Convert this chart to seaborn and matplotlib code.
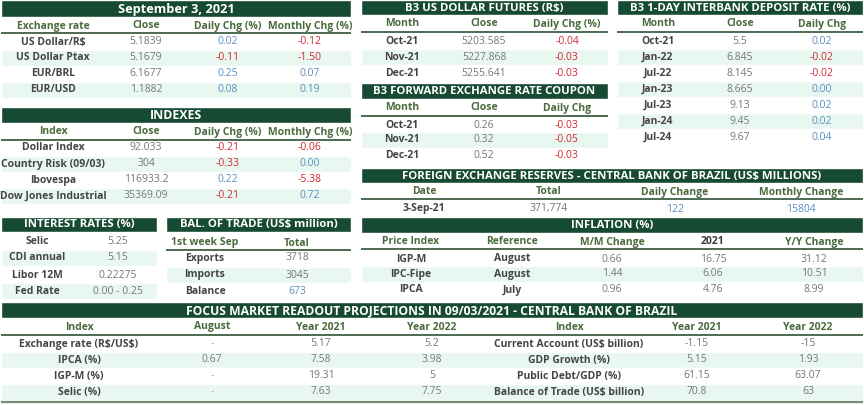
"""
Brazil market dashboard, 3 Sep 2021: a panel of small tables
"""

import matplotlib
matplotlib.use("Agg")
import matplotlib.pyplot as plt
import seaborn as sns

# --- data ---------------------------------------------------------------
fx_title = "September 3, 2021"
fx_headers = ["Exchange rate", "Close", "Daily Chg (%)", "Monthly Chg (%)"]
fx_names = ["US Dollar/R$", "US Dollar Ptax", "EUR/BRL", "EUR/USD"]
fx_close = ["5.1839", "5.1679", "6.1677", "1.1882"]
fx_daily = ["0.02", "-0.11", "0.25", "0.08"]
fx_monthly = ["-0.12", "-1.50", "0.07", "0.19"]

idx_title = "INDEXES"
idx_headers = ["Index", "Close", "Daily Chg (%)", "Monthly Chg (%)"]
idx_names = ["Dollar Index", "Country Risk (09/03)", "Ibovespa", "Dow Jones Industrial"]
idx_close = ["92.033", "304", "116933.2", "35369.09"]
idx_daily = ["-0.21", "-0.33", "0.22", "-0.21"]
idx_monthly = ["-0.06", "0.00", "-5.38", "0.72"]

fut_title = "B3 US DOLLAR FUTURES (R$)"
fut_headers = ["Month", "Close", "Daily Chg (%)"]
fut_months = ["Oct-21", "Nov-21", "Dec-21"]
fut_close = ["5203.585", "5227.868", "5255.641"]
fut_daily = ["-0.04", "-0.03", "-0.03"]

cpn_title = "B3 FORWARD EXCHANGE RATE COUPON"
cpn_headers = ["Month", "Close", "Daily Chg"]
cpn_months = ["Oct-21", "Nov-21", "Dec-21"]
cpn_close = ["0.26", "0.32", "0.52"]
cpn_daily = ["-0.03", "-0.05", "-0.03"]

di_title = "B3 1-DAY INTERBANK DEPOSIT RATE (%)"
di_headers = ["Month", "Close", "Daily Chg"]
di_months = ["Oct-21", "Jan-22", "Jul-22", "Jan-23", "Jul-23", "Jan-24", "Jul-24"]
di_close = ["5.5", "6.845", "8.145", "8.665", "9.13", "9.45", "9.67"]
di_daily = ["0.02", "-0.02", "-0.02", "0.00", "0.02", "0.02", "0.04"]

res_title = "FOREIGN EXCHANGE RESERVES - CENTRAL BANK OF BRAZIL (US$ MILLIONS)"
res_headers = ["Date", "Total", "Daily Change", "Monthly Change"]
res_date = ["3-Sep-21"]
res_total = ["371,774"]
res_daily = ["122"]
res_monthly = ["15804"]

inf_title = "INFLATION (%)"
inf_headers = ["Price Index", "Reference", "M/M Change", "2021", "Y/Y Change"]
inf_names = ["IGP-M", "IPC-Fipe", "IPCA"]
inf_ref = ["August", "August", "July"]
inf_mm = ["0.66", "1.44", "0.96"]
inf_ytd = ["16.75", "6.06", "4.76"]
inf_yy = ["31.12", "10.51", "8.99"]

rate_title = "INTEREST RATES (%)"
rate_names = ["Selic", "CDI annual", "Libor 12M", "Fed Rate"]
rate_values = ["5.25", "5.15", "0.22275", "0.00 - 0.25"]

bal_title = "BAL. OF TRADE (US$ million)"
bal_headers = ["1st week Sep", "Total"]
bal_names = ["Exports", "Imports", "Balance"]
bal_values = ["3718", "3045", "673"]

focus_title = "FOCUS MARKET READOUT PROJECTIONS IN 09/03/2021 - CENTRAL BANK OF BRAZIL"
focus_headers = ["Index", "August", "Year 2021", "Year 2022", "Index", "Year 2021", "Year 2022"]
focus_left = ["Exchange rate (R$/US$)", "IPCA (%)", "IGP-M (%)", "Selic (%)"]
focus_aug = ["-", "0.67", "-", "-"]
focus_l21 = ["5.17", "7.58", "19.31", "7.63"]
focus_l22 = ["5.2", "3.98", "5", "7.75"]
focus_right = ["Current Account (US$ billion)", "GDP Growth (%)",
               "Public Debt/GDP (%)", "Balance of Trade (US$ billion)"]
focus_r21 = ["-1.15", "5.15", "61.15", "70.8"]
focus_r22 = ["-15", "1.93", "63.07", "63"]

# --- style --------------------------------------------------------------
BAR = "#174a33"
STRIPE = "#e9f7f1"
HEAD = "#4a6b3c"
LINE = "#3f5f48"
LABEL = "#454545"
VALUE = "#777777"
POS = "#5a8fc0"
NEG = "#d22a2f"
FS = 7.5

sns.set_theme(style="white")
plt.rcParams["font.family"] = ["Open Sans", "DejaVu Sans"]
plt.rcParams["text.parse_math"] = False  # "$" is literal text here


def change_color(v):
    return NEG if v.startswith("-") else POS


def draw_table(ax, box, title, headers, columns, label_cols=(0,), signed_cols=(),
               stripe_rows=(1, 3), header_colors=None, bottom_line=False, title_fs=8.2):
    """box: x0, x1, bar top, bar bottom, header y, line y, row centres, column centres"""
    x0, x1, bt, bb, hy, ly, rows_y, cols_x = box
    ax.barh((bt + bb) / 2, x1 - x0, height=bb - bt, left=x0, color=BAR, zorder=1)
    ax.text((x0 + x1) / 2, (bt + bb) / 2 + 0.5, title, color="white", fontsize=title_fs,
            fontweight="bold", ha="center", va="center", zorder=3)
    for r in stripe_rows:
        if r < len(rows_y):
            ax.barh(rows_y[r], x1 - x0, height=15.5, left=x0, color=STRIPE, zorder=0)
    if headers:
        for j, h in enumerate(headers):
            c = HEAD if header_colors is None else header_colors[j]
            ax.text(cols_x[j], hy, h, color=c, fontsize=FS, fontweight="bold",
                    ha="center", va="center")
        ax.plot([x0, x1], [ly, ly], color=LINE, lw=1.3, solid_capstyle="butt")
    for j, col in enumerate(columns):
        for i, v in enumerate(col):
            if j in label_cols:
                c, w = LABEL, "bold"
            elif j in signed_cols:
                c, w = change_color(v), "normal"
            else:
                c, w = VALUE, "normal"
            if v == "-":
                c = "#aaaaaa"
            ax.text(cols_x[j], rows_y[i], v, color=c, fontsize=FS, fontweight=w,
                    ha="center", va="center")
    if bottom_line:
        yb = rows_y[-1] + 10
        ax.plot([x0, x1], [yb, yb], color="#6f8f78", lw=1.6, solid_capstyle="butt")


fig = plt.figure(figsize=(8.64, 4.05), dpi=100)
ax = fig.add_axes([0, 0, 1, 1])
ax.set_xlim(0, 864)
ax.set_ylim(405, 0)
ax.axis("off")

left_cols = [53, 146, 228, 310]
draw_table(ax, (1, 351, 0, 17, 26, 33, [42, 58, 74, 90], left_cols),
           fx_title, fx_headers, [fx_names, fx_close, fx_daily, fx_monthly],
           signed_cols=(2, 3), title_fs=9.2)
draw_table(ax, (1, 351, 107, 123, 132, 140, [148, 164, 180, 196], left_cols),
           idx_title, idx_headers, [idx_names, idx_close, idx_daily, idx_monthly],
           signed_cols=(2, 3), title_fs=8.9)

mid_cols = [402, 484, 567]
draw_table(ax, (361, 608, 0, 15, 24, 32, [41, 57, 73], mid_cols),
           fut_title, fut_headers, [fut_months, fut_close, fut_daily],
           signed_cols=(2,), stripe_rows=(1,))
draw_table(ax, (361, 608, 83, 99, 108, 116, [125, 140, 156], mid_cols),
           cpn_title, cpn_headers, [cpn_months, cpn_close, cpn_daily],
           signed_cols=(2,), stripe_rows=(1,))

draw_table(ax, (617, 863, 0, 15, 24, 32, [41, 57, 73, 89, 105, 121, 137], [658, 740, 822]),
           di_title, di_headers, [di_months, di_close, di_daily],
           signed_cols=(2,), stripe_rows=(1, 3, 5))

draw_table(ax, (361, 863, 168, 183, 192, 199, [209], [424, 549, 675, 801]),
           res_title, res_headers, [res_date, res_total, res_daily, res_monthly],
           signed_cols=(2, 3), stripe_rows=())
draw_table(ax, (361, 863, 217, 233, 242, 249, [259, 274, 290], [411, 512, 612, 713, 814]),
           inf_title, inf_headers, [inf_names, inf_ref, inf_mm, inf_ytd, inf_yy],
           label_cols=(0, 1), stripe_rows=(1,),
           header_colors=[HEAD, HEAD, HEAD, "#3a3a3a", HEAD])

draw_table(ax, (1, 157, 217, 232, None, None, [242, 258, 275, 291], [37, 118]),
           rate_title, None, [rate_names, rate_values])
draw_table(ax, (166, 351, 217, 232, 243, 250, [258, 275, 291], [205, 297]),
           bal_title, bal_headers, [bal_names, bal_values], stripe_rows=(1,))
# only the trade balance figure is coloured
ax.texts[-1].set_color(POS)

draw_table(ax, (1, 863, 302, 318, 327, 335, [344, 360, 376, 392],
                [79, 212, 321, 432, 569, 697, 808]),
           focus_title, focus_headers,
           [focus_left, focus_aug, focus_l21, focus_l22, focus_right, focus_r21, focus_r22],
           label_cols=(0, 4), bottom_line=True, title_fs=8.7)

fig.savefig("out.png", dpi=100)
plt.close(fig)
